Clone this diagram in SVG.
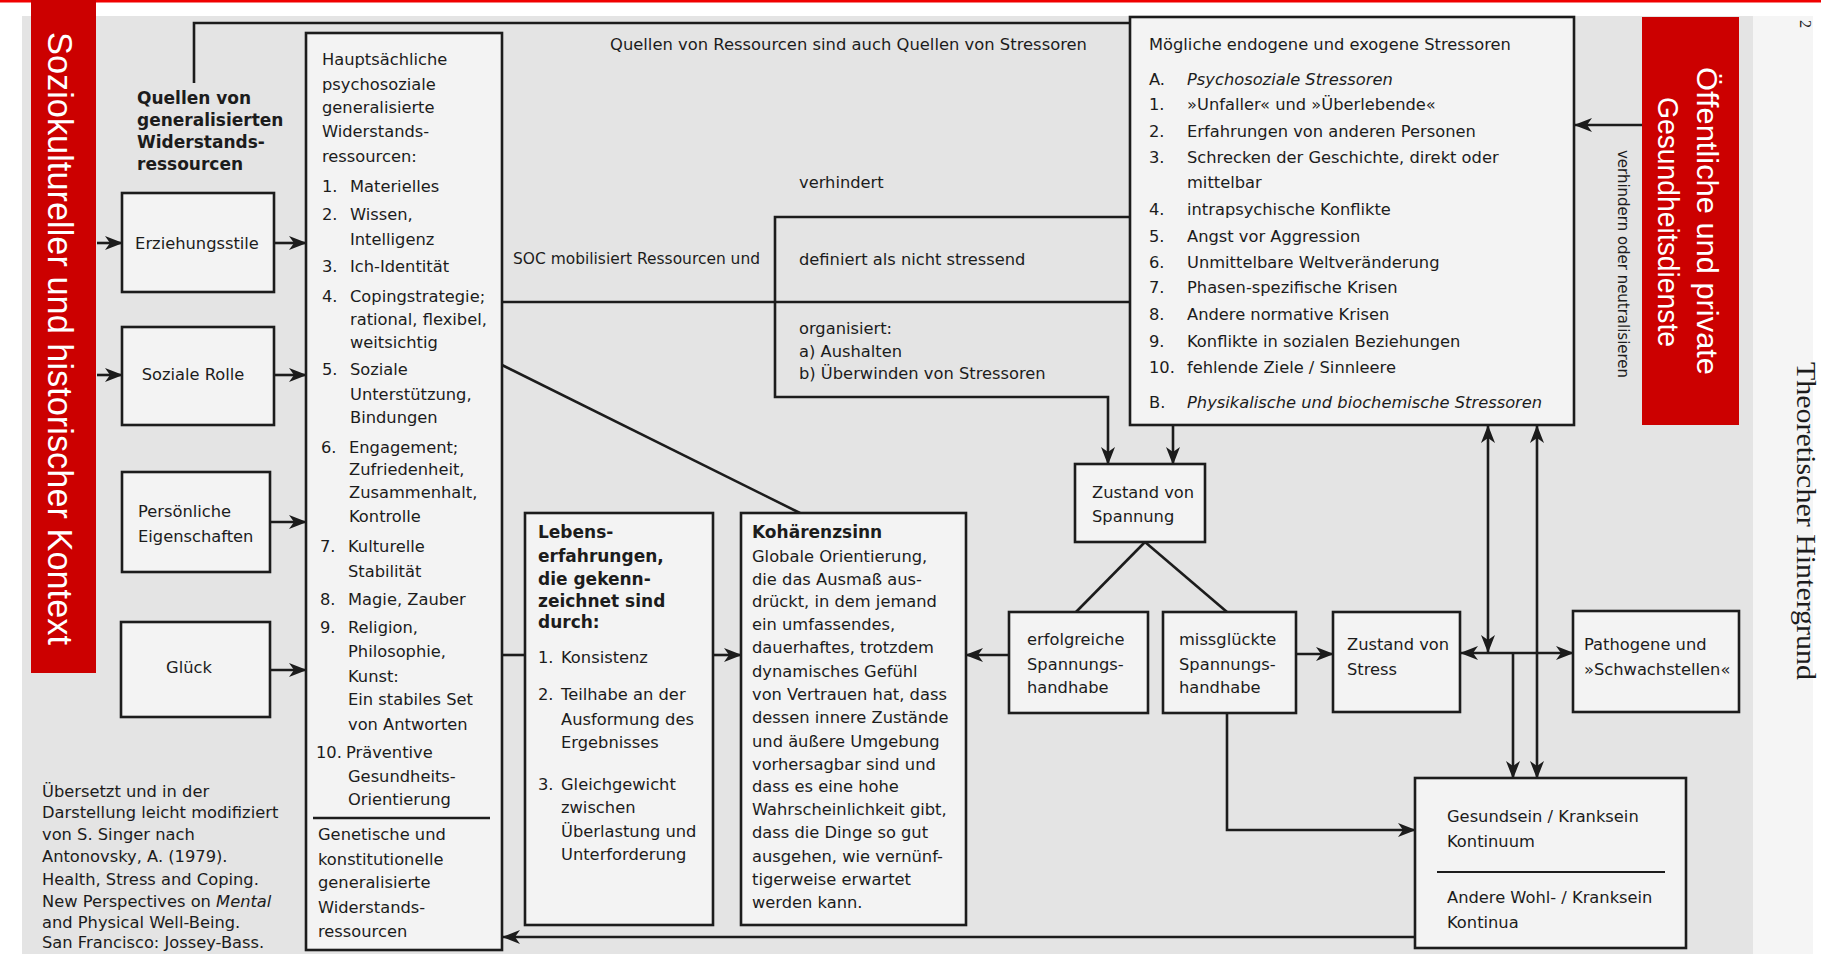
<svg xmlns="http://www.w3.org/2000/svg" width="1821" height="954" viewBox="0 0 1821 954">
<style>
.t{font-family:"DejaVu Sans",sans-serif;font-size:16.3px;fill:#1c1c1c}
.b{font-weight:bold;font-size:17px}
.i{font-style:italic}
.box{fill:#f3f3f3;stroke:#1c1c1c;stroke-width:2.6}
.ln{fill:none;stroke:#1c1c1c;stroke-width:2.6}
.red{fill:#cc0000}
.wt{font-family:"Liberation Sans",Arial,sans-serif;fill:#ffffff}
</style>
<defs>
<marker id="ah" viewBox="0 0 18 14" refX="17" refY="7" markerWidth="18" markerHeight="14" orient="auto-start-reverse" markerUnits="userSpaceOnUse">
<path d="M0,0 L18,7 L0,14 L5,7 z" fill="#1c1c1c"/>
</marker>
</defs>

<rect x="0" y="0" width="1821" height="954" fill="#ffffff"/>
<rect x="22" y="16" width="1731" height="938" fill="#e4e4e4"/>
<rect x="1753" y="16" width="60" height="938" fill="#f5f5f5"/>
<rect x="0" y="0" width="1821" height="2.5" fill="#f00000"/>

<g id="red-left">
<rect class="red" x="31" y="0" width="65" height="673"/>
<text class="wt" font-size="35" textLength="613" lengthAdjust="spacingAndGlyphs" transform="translate(48,32) rotate(90)">Soziokultureller und historischer Kontext</text>
</g>
<g id="red-right">
<rect class="red" x="1642" y="17" width="97" height="408"/>
<text class="wt" font-size="30" text-anchor="middle" textLength="308" lengthAdjust="spacingAndGlyphs" transform="translate(1697,221) rotate(90)">Öffentliche und private</text>
<text class="wt" font-size="30" text-anchor="middle" textLength="250" lengthAdjust="spacingAndGlyphs" transform="translate(1658,222) rotate(90)">Gesundheitsdienste</text>
</g>
<g id="page-side">
<text font-family="Liberation Serif,serif" font-size="28" fill="#1c1c1c" textLength="318" lengthAdjust="spacingAndGlyphs" transform="translate(1797,362) rotate(90)">Theoretischer Hintergrund</text>
<text font-family="Liberation Serif,serif" font-size="16" fill="#1c1c1c" transform="translate(1800,20) rotate(90)">2</text>
</g>

<g id="connectors">
<path class="ln" d="M194,83 V23 H1130"/>
<path class="ln" d="M97,243 H122" marker-end="url(#ah)"/>
<path class="ln" d="M97,375 H122" marker-end="url(#ah)"/>
<path class="ln" d="M274,243 H306" marker-end="url(#ah)"/>
<path class="ln" d="M274,375 H306" marker-end="url(#ah)"/>
<path class="ln" d="M270,522 H306" marker-end="url(#ah)"/>
<path class="ln" d="M270,670 H306" marker-end="url(#ah)"/>
<path class="ln" d="M502,302 H1130"/>
<path class="ln" d="M1130,217 H775 V397 H1108 V464" marker-end="url(#ah)"/>
<path class="ln" d="M1173,425 V464" marker-end="url(#ah)"/>
<path class="ln" d="M502,365 L800,513"/>
<path class="ln" d="M502,655 H525"/>
<path class="ln" d="M713,655 H741" marker-end="url(#ah)"/>
<path class="ln" d="M1009,655 H966" marker-end="url(#ah)"/>
<path class="ln" d="M1145,542 L1076,612"/>
<path class="ln" d="M1145,542 L1227,612"/>
<path class="ln" d="M1296,654 H1333" marker-end="url(#ah)"/>
<path class="ln" d="M1461,653 H1573" marker-start="url(#ah)" marker-end="url(#ah)"/>
<path class="ln" d="M1488,426 V652" marker-start="url(#ah)" marker-end="url(#ah)"/>
<path class="ln" d="M1513,653 V778" marker-end="url(#ah)"/>
<path class="ln" d="M1537,426 V778" marker-start="url(#ah)" marker-end="url(#ah)"/>
<path class="ln" d="M1227,713 V830 H1415" marker-end="url(#ah)"/>
<path class="ln" d="M1415,937 H503" marker-end="url(#ah)"/>
<path class="ln" d="M1642,125 H1575" marker-end="url(#ah)"/>
</g>

<g id="labels">
<text class="t" x="610" y="50" textLength="477" lengthAdjust="spacingAndGlyphs">Quellen von Ressourcen sind auch Quellen von Stressoren</text>
<text class="t" x="799" y="188" font-size="15.5">verhindert</text>
<text class="t" x="513" y="264" font-size="15.4" textLength="247" lengthAdjust="spacingAndGlyphs">SOC mobilisiert Ressourcen und</text>
<text class="t" x="799" y="265" font-size="15.8">definiert als nicht stressend</text>
<text class="t" x="799" y="334" font-size="15.8">organisiert:</text>
<text class="t" x="799" y="357" font-size="15.8">a) Aushalten</text>
<text class="t" x="799" y="379" font-size="15.8">b) Überwinden von Stressoren</text>
<text class="t" font-size="14.3" textLength="228" lengthAdjust="spacingAndGlyphs" transform="translate(1618,150) rotate(90)">verhindern oder neutralisieren</text>
</g>

<g id="title-sources">
<text class="t b" x="137" y="104">Quellen von</text>
<text class="t b" x="137" y="126">generalisierten</text>
<text class="t b" x="137" y="148">Widerstands-</text>
<text class="t b" x="137" y="170">ressourcen</text>
</g>

<g id="node-erziehungsstile">
<rect class="box" x="122" y="193" width="152" height="99"/>
<text class="t" x="197" y="249" text-anchor="middle">Erziehungsstile</text>
</g>
<g id="node-soziale-rolle">
<rect class="box" x="122" y="327" width="152" height="98"/>
<text class="t" x="193" y="380" text-anchor="middle">Soziale Rolle</text>
</g>
<g id="node-persoenliche">
<rect class="box" x="122" y="472" width="148" height="100"/>
<text class="t" x="138" y="517">Persönliche</text>
<text class="t" x="138" y="542">Eigenschaften</text>
</g>
<g id="node-glueck">
<rect class="box" x="121" y="622" width="149" height="95"/>
<text class="t" x="189" y="673" text-anchor="middle">Glück</text>
</g>

<g id="node-ressourcen">
<rect class="box" x="306" y="33" width="196" height="917"/>
<line x1="313" y1="818" x2="490" y2="818" stroke="#1c1c1c" stroke-width="2.4"/>
<text class="t" x="322" y="65">Hauptsächliche</text>
<text class="t" x="322" y="90">psychosoziale</text>
<text class="t" x="322" y="113">generalisierte</text>
<text class="t" x="322" y="137">Widerstands-</text>
<text class="t" x="322" y="162">ressourcen:</text>
<text class="t" x="322" y="192">1.</text><text class="t" x="350" y="192">Materielles</text>
<text class="t" x="322" y="220">2.</text><text class="t" x="350" y="220">Wissen,</text>
<text class="t" x="350" y="245">Intelligenz</text>
<text class="t" x="322" y="272">3.</text><text class="t" x="350" y="272">Ich-Identität</text>
<text class="t" x="322" y="302">4.</text><text class="t" x="350" y="302">Copingstrategie;</text>
<text class="t" x="350" y="325">rational, flexibel,</text>
<text class="t" x="350" y="348">weitsichtig</text>
<text class="t" x="322" y="375">5.</text><text class="t" x="350" y="375">Soziale</text>
<text class="t" x="350" y="400">Unterstützung,</text>
<text class="t" x="350" y="423">Bindungen</text>
<text class="t" x="321" y="453">6.</text><text class="t" x="349" y="453">Engagement;</text>
<text class="t" x="349" y="475">Zufriedenheit,</text>
<text class="t" x="349" y="498">Zusammenhalt,</text>
<text class="t" x="349" y="522">Kontrolle</text>
<text class="t" x="320" y="552">7.</text><text class="t" x="348" y="552">Kulturelle</text>
<text class="t" x="348" y="577">Stabilität</text>
<text class="t" x="320" y="605">8.</text><text class="t" x="348" y="605">Magie, Zauber</text>
<text class="t" x="320" y="633">9.</text><text class="t" x="348" y="633">Religion,</text>
<text class="t" x="348" y="657">Philosophie,</text>
<text class="t" x="348" y="682">Kunst:</text>
<text class="t" x="348" y="705">Ein stabiles Set</text>
<text class="t" x="348" y="730">von Antworten</text>
<text class="t" x="316" y="758">10.</text><text class="t" x="346" y="758">Präventive</text>
<text class="t" x="348" y="782">Gesundheits-</text>
<text class="t" x="348" y="805">Orientierung</text>
<text class="t" x="318" y="840">Genetische und</text>
<text class="t" x="318" y="865">konstitutionelle</text>
<text class="t" x="318" y="888">generalisierte</text>
<text class="t" x="318" y="913">Widerstands-</text>
<text class="t" x="318" y="937">ressourcen</text>
</g>

<g id="citation">
<text class="t" x="42" y="797" font-size="14.6">Übersetzt und in der</text>
<text class="t" x="42" y="818" font-size="14.6">Darstellung leicht modifiziert</text>
<text class="t" x="42" y="840" font-size="14.6">von S. Singer nach</text>
<text class="t" x="42" y="862" font-size="14.6">Antonovsky, A. (1979).</text>
<text class="t" x="42" y="885" font-size="14.6">Health, Stress and Coping.</text>
<text class="t" x="42" y="907" font-size="14.6">New Perspectives on <tspan class="i">Mental</tspan></text>
<text class="t" x="42" y="928" font-size="14.6">and Physical Well-Being.</text>
<text class="t" x="42" y="948" font-size="14.6">San Francisco: Jossey-Bass.</text>
</g>

<g id="node-stressoren">
<rect class="box" x="1130" y="17" width="444" height="408"/>
<text class="t" x="1149" y="50">Mögliche endogene und exogene Stressoren</text>
<text class="t" x="1149" y="85">A.</text><text class="t i" x="1187" y="85">Psychosoziale Stressoren</text>
<text class="t" x="1149" y="110">1.</text><text class="t" x="1187" y="110">»Unfaller« und »Überlebende«</text>
<text class="t" x="1149" y="137">2.</text><text class="t" x="1187" y="137">Erfahrungen von anderen Personen</text>
<text class="t" x="1149" y="163">3.</text><text class="t" x="1187" y="163">Schrecken der Geschichte, direkt oder</text>
<text class="t" x="1187" y="188">mittelbar</text>
<text class="t" x="1149" y="215">4.</text><text class="t" x="1187" y="215">intrapsychische Konflikte</text>
<text class="t" x="1149" y="242">5.</text><text class="t" x="1187" y="242">Angst vor Aggression</text>
<text class="t" x="1149" y="268">6.</text><text class="t" x="1187" y="268">Unmittelbare Weltveränderung</text>
<text class="t" x="1149" y="293">7.</text><text class="t" x="1187" y="293">Phasen-spezifische Krisen</text>
<text class="t" x="1149" y="320">8.</text><text class="t" x="1187" y="320">Andere normative Krisen</text>
<text class="t" x="1149" y="347">9.</text><text class="t" x="1187" y="347">Konflikte in sozialen Beziehungen</text>
<text class="t" x="1149" y="373">10.</text><text class="t" x="1187" y="373">fehlende Ziele / Sinnleere</text>
<text class="t" x="1149" y="408">B.</text><text class="t i" x="1187" y="408">Physikalische und biochemische Stressoren</text>
</g>

<g id="node-lebenserfahrungen">
<rect class="box" x="525" y="513" width="188" height="412"/>
<text class="t b" x="538" y="538">Lebens-</text>
<text class="t b" x="538" y="562">erfahrungen,</text>
<text class="t b" x="538" y="585">die gekenn-</text>
<text class="t b" x="538" y="607">zeichnet sind</text>
<text class="t b" x="538" y="628">durch:</text>
<text class="t" x="538" y="663">1.</text><text class="t" x="561" y="663">Konsistenz</text>
<text class="t" x="538" y="700">2.</text><text class="t" x="561" y="700">Teilhabe an der</text>
<text class="t" x="561" y="725">Ausformung des</text>
<text class="t" x="561" y="748">Ergebnisses</text>
<text class="t" x="538" y="790">3.</text><text class="t" x="561" y="790">Gleichgewicht</text>
<text class="t" x="561" y="813">zwischen</text>
<text class="t" x="561" y="837">Überlastung und</text>
<text class="t" x="561" y="860">Unterforderung</text>
</g>

<g id="node-koherenzsinn">
<rect class="box" x="741" y="513" width="225" height="412"/>
<text class="t b" x="752" y="538">Kohärenzsinn</text>
<text class="t" x="752" y="562">Globale Orientierung,</text>
<text class="t" x="752" y="585">die das Ausmaß aus-</text>
<text class="t" x="752" y="607">drückt, in dem jemand</text>
<text class="t" x="752" y="630">ein umfassendes,</text>
<text class="t" x="752" y="653">dauerhaftes, trotzdem</text>
<text class="t" x="752" y="677">dynamisches Gefühl</text>
<text class="t" x="752" y="700">von Vertrauen hat, dass</text>
<text class="t" x="752" y="723">dessen innere Zustände</text>
<text class="t" x="752" y="747">und äußere Umgebung</text>
<text class="t" x="752" y="770">vorhersagbar sind und</text>
<text class="t" x="752" y="792">dass es eine hohe</text>
<text class="t" x="752" y="815">Wahrscheinlichkeit gibt,</text>
<text class="t" x="752" y="838">dass die Dinge so gut</text>
<text class="t" x="752" y="862">ausgehen, wie vernünf-</text>
<text class="t" x="752" y="885">tigerweise erwartet</text>
<text class="t" x="752" y="908">werden kann.</text>
</g>

<g id="node-zustand-spannung">
<rect class="box" x="1075" y="464" width="130" height="78"/>
<text class="t" x="1092" y="498">Zustand von</text>
<text class="t" x="1092" y="522">Spannung</text>
</g>
<g id="node-erfolgreiche">
<rect class="box" x="1009" y="612" width="139" height="101"/>
<text class="t" x="1027" y="645" font-size="17.6">erfolgreiche</text>
<text class="t" x="1027" y="670" font-size="17.6">Spannungs-</text>
<text class="t" x="1027" y="693" font-size="17.6">handhabe</text>
</g>
<g id="node-missglueckte">
<rect class="box" x="1163" y="612" width="133" height="101"/>
<text class="t" x="1179" y="645" font-size="17.6">missglückte</text>
<text class="t" x="1179" y="670" font-size="17.6">Spannungs-</text>
<text class="t" x="1179" y="693" font-size="17.6">handhabe</text>
</g>
<g id="node-zustand-stress">
<rect class="box" x="1333" y="612" width="127" height="100"/>
<text class="t" x="1347" y="650" font-size="15.9">Zustand von</text>
<text class="t" x="1347" y="675" font-size="15.9">Stress</text>
</g>
<g id="node-pathogene">
<rect class="box" x="1573" y="611" width="166" height="101"/>
<text class="t" x="1584" y="650">Pathogene und</text>
<text class="t" x="1584" y="675">»Schwachstellen«</text>
</g>
<g id="node-gesundsein">
<rect class="box" x="1415" y="778" width="271" height="170"/>
<line x1="1437" y1="872" x2="1665" y2="872" stroke="#1c1c1c" stroke-width="2.2"/>
<text class="t" x="1447" y="822" font-size="17">Gesundsein / Kranksein</text>
<text class="t" x="1447" y="847" font-size="17">Kontinuum</text>
<text class="t" x="1447" y="903" font-size="17">Andere Wohl- / Kranksein</text>
<text class="t" x="1447" y="928" font-size="17">Kontinua</text>
</g>
</svg>
